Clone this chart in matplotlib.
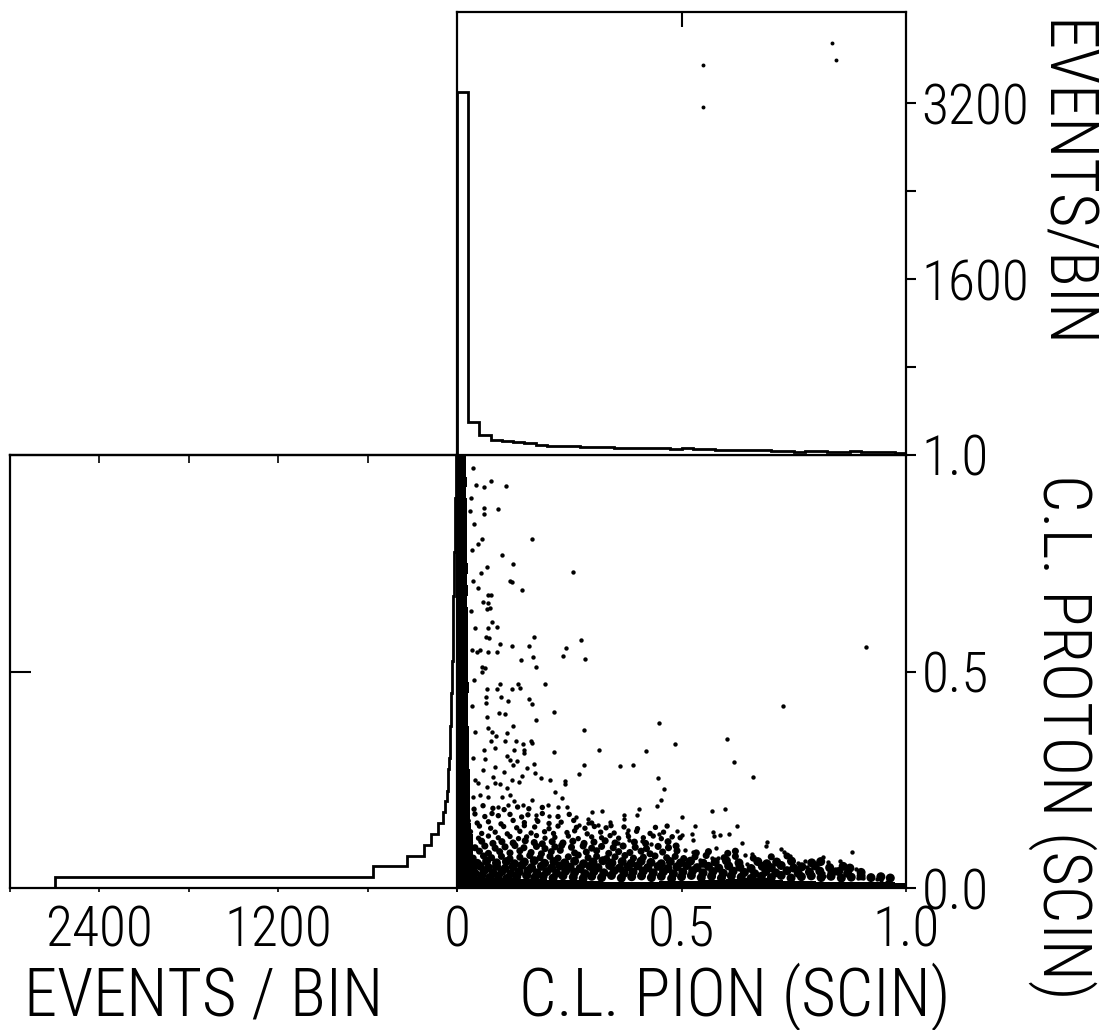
import matplotlib
matplotlib.use('Agg')
import matplotlib.pyplot as plt
import numpy as np

plt.rcParams['font.family'] = ['Roboto Condensed', 'Barlow Condensed', 'Liberation Sans Narrow', 'DejaVu Sans']
plt.rcParams['font.weight'] = 'light'

# ---------------- data ----------------
bin_width = 0.025
bin_edges = np.arange(41) * bin_width

# EVENTS/BIN vs C.L. PION (top histogram)
pion_counts = [3300, 300, 180, 140, 130, 120, 110, 90, 85, 85,
               80, 75, 72, 70, 65, 65, 62, 60, 60, 55,
               60, 55, 55, 50, 50, 45, 45, 45, 40, 35,
               30, 40, 35, 30, 30, 35, 30, 30, 25, 20]

# EVENTS/BIN vs C.L. PROTON (left histogram)
proton_counts = [2700, 565, 335, 220, 175, 130, 96, 80, 67, 63,
                 58, 55, 50, 48, 45, 42, 40, 38, 36, 35,
                 33, 30, 30, 28, 27, 25, 24, 22, 20, 20,
                 18, 16, 15, 14, 12, 12, 10, 10, 8, 8]

# dense bands of the scatter (read as band extents per bin)
left_band_width = [0.050, 0.045, 0.040, 0.035, 0.035, 0.032, 0.030, 0.030, 0.030, 0.028,
                   0.028, 0.027, 0.027, 0.026, 0.026, 0.025, 0.025, 0.025, 0.026, 0.025,
                   0.025, 0.024, 0.025, 0.024, 0.024, 0.025, 0.023, 0.024, 0.023, 0.024,
                   0.023, 0.022, 0.023, 0.022, 0.022, 0.022, 0.021, 0.022, 0.021, 0.021]
bottom_band_height = [0.030, 0.026, 0.024, 0.022, 0.022, 0.020, 0.020, 0.020, 0.019, 0.018,
                      0.018, 0.017, 0.016, 0.015, 0.015, 0.015, 0.015, 0.015, 0.016, 0.016,
                      0.017, 0.017, 0.018, 0.018, 0.020, 0.022, 0.024, 0.022, 0.018, 0.016,
                      0.016, 0.016, 0.015, 0.015, 0.015, 0.014, 0.014, 0.013, 0.013, 0.012]

# isolated events (C.L. pion, C.L. proton)
sparse_pion = [0.076, 0.060, 0.109, 0.061, 0.091, 0.061, 0.168, 0.055, 0.047, 0.100,
               0.125, 0.066, 0.259, 0.053, 0.118, 0.122, 0.144, 0.046, 0.068, 0.075,
               0.059, 0.069, 0.067, 0.073, 0.077, 0.088, 0.068, 0.171, 0.276, 0.064,
               0.071, 0.096, 0.122, 0.160, 0.243, 0.045, 0.052, 0.068, 0.088, 0.142,
               0.169, 0.235, 0.286, 0.176, 0.055, 0.062, 0.055,
               0.912, 0.727, 0.451, 0.601, 0.486, 0.617, 0.660, 0.422, 0.447, 0.462,
               0.454, 0.445, 0.393, 0.363, 0.283, 0.316, 0.283, 0.272, 0.217, 0.217,
               0.196, 0.176,
               0.096, 0.135, 0.140, 0.122, 0.088, 0.066, 0.097, 0.114, 0.160, 0.168,
               0.065, 0.065, 0.094, 0.107, 0.066, 0.125, 0.068, 0.111, 0.077, 0.086,
               0.165, 0.168, 0.075, 0.107, 0.131, 0.148, 0.061, 0.085, 0.126, 0.149,
               0.150, 0.062, 0.112, 0.118, 0.124, 0.133, 0.172, 0.156, 0.059, 0.085,
               0.105, 0.145, 0.174, 0.186, 0.207, 0.241, 0.241, 0.406, 0.402, 0.371,
               0.373, 0.500, 0.450, 0.478, 0.490, 0.380, 0.379, 0.411, 0.432, 0.382,
               0.359, 0.341, 0.322, 0.300, 0.315, 0.291, 0.292, 0.264, 0.272, 0.244,
               0.233, 0.218, 0.226, 0.202, 0.206, 0.177, 0.175, 0.166, 0.148, 0.128,
               0.114, 0.118, 0.100, 0.092, 0.070, 0.051, 0.137, 0.122, 0.111, 0.085,
               0.096, 0.066, 0.047, 0.080,
               0.568, 0.597, 0.530, 0.624, 0.502, 0.523, 0.571, 0.573, 0.586, 0.605,
               0.634, 0.691, 0.689, 0.525, 0.508, 0.526, 0.576, 0.641, 0.656, 0.722,
               0.729, 0.742, 0.816, 0.827, 0.853, 0.880, 0.567, 0.582, 0.541, 0.549,
               0.502, 0.513, 0.645, 0.760, 0.775, 0.779, 0.842, 0.889, 0.816, 0.818,
               0.893, 0.905, 0.935, 0.945, 0.957,
               0.035, 0.032, 0.038, 0.033, 0.036, 0.031, 0.040, 0.034, 0.037, 0.033,
               0.039, 0.035, 0.041, 0.036, 0.043, 0.030]
sparse_proton = [0.941, 0.926, 0.928, 0.877, 0.875, 0.863, 0.807, 0.805, 0.794, 0.768,
                 0.748, 0.741, 0.730, 0.728, 0.708, 0.706, 0.688, 0.692, 0.677, 0.677,
                 0.661, 0.658, 0.644, 0.646, 0.615, 0.602, 0.600, 0.580, 0.572, 0.580,
                 0.578, 0.564, 0.559, 0.559, 0.555, 0.546, 0.549, 0.544, 0.544, 0.527,
                 0.533, 0.536, 0.530, 0.510, 0.511, 0.508, 0.500,
                 0.557, 0.421, 0.382, 0.343, 0.333, 0.291, 0.257, 0.317, 0.254, 0.228,
                 0.203, 0.190, 0.285, 0.282, 0.364, 0.319, 0.285, 0.264, 0.315, 0.406,
                 0.470, 0.389,
                 0.470, 0.472, 0.462, 0.459, 0.459, 0.459, 0.442, 0.432, 0.437, 0.426,
                 0.440, 0.428, 0.405, 0.403, 0.395, 0.374, 0.370, 0.357, 0.361, 0.352,
                 0.339, 0.334, 0.339, 0.339, 0.340, 0.332, 0.319, 0.323, 0.319, 0.319,
                 0.311, 0.299, 0.305, 0.295, 0.285, 0.294, 0.287, 0.278, 0.273, 0.280,
                 0.267, 0.259, 0.265, 0.255, 0.249, 0.248, 0.240, 0.182, 0.168, 0.168,
                 0.160, 0.163, 0.125, 0.121, 0.132, 0.134, 0.127, 0.109, 0.102, 0.111,
                 0.105, 0.152, 0.177, 0.176, 0.145, 0.160, 0.150, 0.164, 0.145, 0.188,
                 0.207, 0.222, 0.188, 0.192, 0.167, 0.168, 0.160, 0.203, 0.192, 0.201,
                 0.192, 0.215, 0.211, 0.188, 0.211, 0.215, 0.244, 0.249, 0.230, 0.242,
                 0.240, 0.234, 0.242, 0.257,
                 0.178, 0.183, 0.143, 0.143, 0.122, 0.125, 0.129, 0.120, 0.122, 0.125,
                 0.104, 0.106, 0.096, 0.112, 0.088, 0.082, 0.093, 0.077, 0.078, 0.090,
                 0.083, 0.074, 0.071, 0.061, 0.062, 0.082, 0.070, 0.070, 0.065, 0.062,
                 0.060, 0.058, 0.055, 0.058, 0.063, 0.049, 0.043, 0.043, 0.035, 0.028,
                 0.024, 0.022, 0.021, 0.019, 0.013,
                 0.970, 0.900, 0.840, 0.780, 0.710, 0.640, 0.600, 0.550, 0.480, 0.420,
                 0.360, 0.300, 0.250, 0.210, 0.930, 0.870]

# crowded events near the axes (read row by row)
dense_pion = [
    0.020, 0.038, 0.058, 0.080, 0.105, 0.135, 0.160, 0.190,
    0.018, 0.040, 0.062, 0.078, 0.092, 0.118, 0.144, 0.158, 0.190, 0.225, 0.250,
    0.025, 0.045, 0.070, 0.098, 0.125, 0.150, 0.180, 0.205, 0.232, 0.260, 0.300,
    0.020, 0.050, 0.075, 0.104, 0.133, 0.150, 0.173, 0.205, 0.225, 0.266, 0.285, 0.306,
    0.332, 0.343, 0.372, 0.402, 0.442, 0.468,
    0.030, 0.055, 0.085, 0.112, 0.140, 0.165, 0.195, 0.215, 0.245, 0.262, 0.290, 0.320,
    0.350, 0.400, 0.430, 0.460,
    0.022, 0.048, 0.070, 0.092, 0.118, 0.137, 0.155, 0.177, 0.196, 0.218, 0.248, 0.270,
    0.300, 0.322, 0.341, 0.360, 0.382, 0.415, 0.437, 0.455, 0.479, 0.497,
    0.028, 0.055, 0.080, 0.100, 0.125, 0.152, 0.172, 0.190, 0.212, 0.236, 0.258, 0.283,
    0.305, 0.330, 0.352, 0.395, 0.420, 0.470,
    0.018, 0.040, 0.062, 0.085, 0.107, 0.129, 0.149, 0.177, 0.196, 0.218, 0.233, 0.255,
    0.281, 0.300, 0.322, 0.348, 0.370, 0.397, 0.422, 0.448, 0.471, 0.488,
    0.025, 0.050, 0.070, 0.095, 0.118, 0.140, 0.165, 0.188, 0.210, 0.230, 0.262, 0.288,
    0.311, 0.338, 0.360, 0.385, 0.410, 0.430, 0.458, 0.490, 0.533, 0.560, 0.603, 0.620,
    0.018, 0.036, 0.059, 0.077, 0.099, 0.118, 0.140, 0.162, 0.185, 0.207, 0.225, 0.248,
    0.270, 0.292, 0.311, 0.333, 0.352, 0.374, 0.393, 0.415, 0.441, 0.467, 0.486, 0.505,
    0.530, 0.555, 0.595, 0.620, 0.660, 0.700, 0.735,
    0.022, 0.045, 0.066, 0.088, 0.110, 0.128, 0.150, 0.172, 0.195, 0.216, 0.240, 0.262,
    0.282, 0.303, 0.325, 0.345, 0.368, 0.388, 0.410, 0.432, 0.455, 0.475, 0.498, 0.520,
    0.548, 0.575, 0.600, 0.628, 0.670, 0.690, 0.712, 0.745, 0.790, 0.810,
    0.014, 0.033, 0.051, 0.070, 0.088, 0.107, 0.125, 0.144, 0.166, 0.188, 0.211, 0.229,
    0.252, 0.274, 0.296, 0.314, 0.340, 0.362, 0.381, 0.403, 0.425, 0.448, 0.470, 0.490,
    0.512, 0.535, 0.560, 0.583, 0.605, 0.630, 0.655, 0.680, 0.700, 0.722, 0.750, 0.768,
    0.798, 0.830, 0.860, 0.875,
    0.022, 0.040, 0.060, 0.080, 0.100, 0.120, 0.138, 0.158, 0.178, 0.200, 0.222, 0.242,
    0.262, 0.285, 0.305, 0.327, 0.350, 0.372, 0.392, 0.415, 0.437, 0.460, 0.482, 0.503,
    0.525, 0.548, 0.570, 0.593, 0.615, 0.640, 0.663, 0.688, 0.710, 0.735, 0.760, 0.785,
    0.808, 0.835, 0.850, 0.870, 0.900,
    0.016, 0.036, 0.055, 0.073, 0.092, 0.111, 0.133, 0.155, 0.173, 0.192, 0.214, 0.236,
    0.259, 0.281, 0.300, 0.322, 0.344, 0.366, 0.389, 0.411, 0.433, 0.455, 0.478, 0.500,
    0.522, 0.544, 0.567, 0.589, 0.611, 0.633, 0.655, 0.678, 0.700, 0.722, 0.744, 0.767,
    0.789, 0.811, 0.833, 0.856, 0.878, 0.900, 0.922, 0.944, 0.965]
dense_proton = [
    0.188, 0.182, 0.190, 0.184, 0.181, 0.187, 0.183, 0.186,
    0.166, 0.171, 0.165, 0.172, 0.167, 0.170, 0.164, 0.169, 0.172, 0.165, 0.170,
    0.155, 0.150, 0.153, 0.148, 0.156, 0.151, 0.154, 0.149, 0.152, 0.156, 0.150,
    0.140, 0.143, 0.138, 0.142, 0.139, 0.144, 0.141, 0.137, 0.143, 0.140, 0.138, 0.142,
    0.139, 0.144, 0.141, 0.137, 0.140, 0.143,
    0.130, 0.126, 0.129, 0.125, 0.131, 0.127, 0.130, 0.126, 0.128, 0.132, 0.125, 0.129,
    0.127, 0.131, 0.126, 0.129,
    0.118, 0.115, 0.120, 0.116, 0.119, 0.114, 0.118, 0.121, 0.115, 0.117, 0.120, 0.114,
    0.118, 0.116, 0.121, 0.115, 0.119, 0.116, 0.120, 0.114, 0.118, 0.116,
    0.105, 0.108, 0.103, 0.107, 0.104, 0.109, 0.105, 0.102, 0.107, 0.104, 0.108, 0.103,
    0.106, 0.109, 0.104, 0.106, 0.103, 0.107,
    0.096, 0.093, 0.097, 0.092, 0.095, 0.098, 0.093, 0.096, 0.091, 0.095, 0.098, 0.094,
    0.097, 0.092, 0.096, 0.093, 0.097, 0.094, 0.091, 0.096, 0.093, 0.097,
    0.082, 0.085, 0.080, 0.084, 0.081, 0.086, 0.082, 0.079, 0.084, 0.087, 0.081, 0.083,
    0.086, 0.080, 0.084, 0.082, 0.085, 0.079, 0.083, 0.086, 0.081, 0.084, 0.080, 0.085,
    0.072, 0.069, 0.074, 0.070, 0.073, 0.068, 0.071, 0.075, 0.070, 0.073, 0.069, 0.072,
    0.076, 0.070, 0.073, 0.068, 0.072, 0.075, 0.069, 0.071, 0.074, 0.070, 0.073, 0.068,
    0.072, 0.075, 0.070, 0.073, 0.069, 0.072, 0.074,
    0.060, 0.057, 0.062, 0.058, 0.061, 0.056, 0.060, 0.063, 0.057, 0.061, 0.058, 0.062,
    0.056, 0.060, 0.063, 0.058, 0.061, 0.057, 0.062, 0.059, 0.056, 0.061, 0.058, 0.062,
    0.057, 0.060, 0.063, 0.058, 0.061, 0.056, 0.060, 0.062, 0.058, 0.061,
    0.049, 0.046, 0.051, 0.047, 0.050, 0.045, 0.049, 0.052, 0.047, 0.050, 0.046, 0.051,
    0.048, 0.045, 0.050, 0.047, 0.052, 0.046, 0.049, 0.051, 0.047, 0.050, 0.045, 0.049,
    0.052, 0.047, 0.050, 0.046, 0.051, 0.048, 0.045, 0.050, 0.047, 0.052, 0.046, 0.049,
    0.051, 0.047, 0.050, 0.046,
    0.037, 0.034, 0.039, 0.035, 0.038, 0.033, 0.037, 0.040, 0.035, 0.038, 0.034, 0.039,
    0.036, 0.033, 0.038, 0.035, 0.040, 0.034, 0.037, 0.039, 0.035, 0.038, 0.033, 0.037,
    0.040, 0.035, 0.038, 0.034, 0.039, 0.036, 0.033, 0.038, 0.035, 0.040, 0.034, 0.037,
    0.039, 0.035, 0.038, 0.034, 0.036,
    0.026, 0.023, 0.028, 0.024, 0.027, 0.022, 0.026, 0.029, 0.024, 0.027, 0.023, 0.028,
    0.025, 0.022, 0.027, 0.024, 0.029, 0.023, 0.026, 0.028, 0.024, 0.027, 0.022, 0.026,
    0.029, 0.024, 0.027, 0.023, 0.028, 0.025, 0.022, 0.027, 0.024, 0.029, 0.023, 0.026,
    0.028, 0.024, 0.027, 0.023, 0.025, 0.028, 0.024, 0.026, 0.023]

# stray marks in the upper panel (C.L. pion, events/bin)
stray_pion = [0.547, 0.547, 0.835, 0.845]
stray_events = [3550, 3165, 3750, 3590]

# ---------------- figure ----------------
W, H = 1103, 1030
fig = plt.figure(figsize=(W / 100, H / 100), dpi=100)
fig.patch.set_facecolor('white')

def fx(px):
    return px / W

def fy(py):
    return 1 - py / H

main_l, main_r, main_t, main_b = 457, 906, 455, 888
ax = fig.add_axes([fx(main_l), fy(main_b), fx(main_r - main_l), (main_b - main_t) / H])
ax_top = fig.add_axes([fx(main_l), fy(455), fx(main_r - main_l), (455 - 12) / H])
ax_left = fig.add_axes([fx(10), fy(main_b), fx(main_l - 10), (main_b - main_t) / H])

SP = 1.6
TICKFS = 40
LABELFS = 48
for a in (ax, ax_top, ax_left):
    for s in a.spines.values():
        s.set_linewidth(SP)
        s.set_color('black')
    a.set_facecolor('white')

# --- main scatter ---
ax.set_xlim(0, 1)
ax.set_ylim(0, 1)
ax.barh(bin_edges[:-1], left_band_width, height=bin_width, align='edge',
        color='black', linewidth=0)
ax.bar(bin_edges[:-1], bottom_band_height, width=bin_width, align='edge',
       color='black', linewidth=0)
dp = np.asarray(dense_proton)
dense_sizes = np.where(dp < 0.065, 42, np.where(dp < 0.11, 26, 15))
ax.scatter(dense_pion, dense_proton, s=dense_sizes, c='black', linewidths=0, marker='o')
ax.scatter(sparse_pion, sparse_proton, s=10, c='black', linewidths=0, marker='o')
ax.set_xticks([0, 0.5, 1.0])
ax.set_xticklabels(['0', '0.5', '1.0'])
ax.tick_params(axis='x', direction='out', length=3, width=1.2, pad=9, labelsize=TICKFS)
ax.yaxis.tick_right()
ax.set_yticks([0, 0.5, 1.0])
ax.set_yticklabels(['0.0', '0.5', '1.0'])
ax.tick_params(axis='y', direction='out', length=7, width=1.5, pad=4, labelsize=TICKFS)

# --- top histogram ---
ax_top.stairs(pion_counts, bin_edges, color='black', linewidth=2.0, baseline=0)
ax_top.scatter(stray_pion, stray_events, s=8, c='black', linewidths=0)
ax_top.set_xlim(0, 1)
ax_top.set_ylim(0, 4030)
ax_top.xaxis.tick_top()
ax_top.set_xticks([0.5])
ax_top.set_xticklabels([])
ax_top.tick_params(axis='x', direction='in', length=11, width=1.5)
ax_top.yaxis.tick_right()
ax_top.set_yticks([800, 1600, 2400, 3200])
ax_top.set_yticklabels(['', '1600', '', '3200'])
ax_top.tick_params(axis='y', direction='out', length=7, width=1.5, pad=4, labelsize=TICKFS)

# --- left histogram ---
ax_left.stairs(proton_counts, bin_edges, orientation='horizontal',
               color='black', linewidth=2.0, baseline=0)
ax_left.set_xlim(3000, 0)
ax_left.set_ylim(0, 1)
ax_left.set_xticks([0, 600, 1200, 1800, 2400, 3000])
ax_left.set_xticklabels(['', '', '1200', '', '2400', ''])
ax_left.tick_params(axis='x', direction='out', length=3, width=1.2, pad=9, labelsize=TICKFS)
sec = ax_left.secondary_xaxis('top')
sec.set_xticks([600, 1200, 1800, 2400])
sec.set_xticklabels([])
sec.tick_params(direction='in', length=6, width=1.2)
sec.spines['top'].set_linewidth(SP)
ax_left.set_yticks([0.5])
ax_left.set_yticklabels([])
ax_left.tick_params(axis='y', direction='in', length=15, width=1.5)

# --- axis titles ---
fig.text(fx(204), fy(1016), 'EVENTS / BIN', ha='center', va='baseline', fontsize=LABELFS)
fig.text(fx(735), fy(1016), 'C.L. PION (SCIN)', ha='center', va='baseline', fontsize=LABELFS)
fig.text(fx(1062), fy(185), 'EVENTS/BIN', ha='center', va='center', rotation=270,
         fontsize=LABELFS)
fig.text(fx(1062), fy(737), 'C.L. PROTON (SCIN)', ha='center', va='center', rotation=270,
         fontsize=LABELFS)

fig.savefig('out.png', dpi=100, facecolor='white')
